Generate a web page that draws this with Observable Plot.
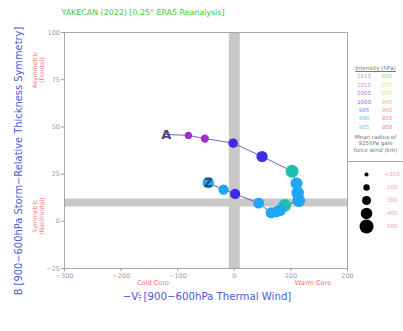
<!DOCTYPE html>
<html>
<head>
<meta charset="utf-8">
<script src="https://cdn.jsdelivr.net/npm/d3@7"></script>
<script src="https://cdn.jsdelivr.net/npm/@observablehq/plot@0.6"></script>
<style>
  body { margin: 0; background: #fff; font-family: "DejaVu Sans", sans-serif; }
  #wrap { position: relative; width: 403px; height: 331px; overflow: hidden; }
  #wrap svg { position: absolute; }
  .lbl { position: absolute; white-space: nowrap; line-height: 1; transform: translate(-50%, -50%); }
  .rot { transform: translate(-50%, -50%) rotate(-90deg); }
  #ilegend { position: absolute; left: 348px; top: 64px; width: 55px; font-size: 5.6px; color: #777; text-align: center; line-height: 8.4px; }
  #ilegend .row { display: flex; justify-content: center; gap: 9px; opacity: 0.7; }
  #ilegend .row span { width: 14px; text-align: center; }
  #sep { position: absolute; left: 347px; top: 161px; width: 56px; height: 0; border-top: 1.5px solid #aaa; }
</style>
</head>
<body>
<div id="wrap"></div>
<script>
// Storm track in phase space: one entry per analysis time
const pointLabels = ["A", "", "", "", "", "", "", "", "", "", "", "", "", "", "", "", "Z"];
const thermalWind = [-120, -81, -52, -2, 49, 102, 110, 112, 114, 89, 81, 74, 65, 43, 1.5, -19, -46];
const thicknessB  = [46, 45.5, 43.8, 41.4, 34.3, 26.5, 20, 15, 11, 8.4, 5.8, 5, 4.5, 9.6, 14.5, 16.8, 20.4];
const mslp        = [1008, 1007, 1006, 1000, 999, 986, 991, 990, 990, 986, 990, 990, 990, 990, 998, 990, 990];
const galeRadius  = [150, 230, 270, 320, 390, 460, 420, 440, 450, 450, 400, 390, 380, 370, 350, 350, 400];

// Intensity legend (hPa) and its colours
const intensityLevels = [1015, 1010, 1005, 1000, 995, 990, 985, 980, 975, 970, 965, 960, 955, 950];
const intensityColors = ["#8c7fb8", "#c15fd6", "#9b30d0", "#3a2ee8", "#2a5cf5", "#1ea6f7", "#1fbfb0",
                         "#5fd35f", "#d8d83a", "#efbd3a", "#f09040", "#f07060", "#f04c7c", "#e030b0"];

// Gale-radius legend (km)
const sizeLabels = ["<100", "200", "300", "400", "500"];
const sizeValues = [100, 200, 300, 400, 500];

// Axis ticks
const xTicks = [-300, -200, -100, 0, 100, 200];
const yTicks = [-25, 0, 25, 50, 75, 100];

const track = thermalWind.map((x, i) => ({
  x, y: thicknessB[i], p: mslp[i], r: galeRadius[i], label: pointLabels[i]
}));

// threshold colour scale: bins centred on each legend level
const ascLevels = intensityLevels.slice().reverse();
const ascColors = intensityColors.slice().reverse();
const thresholds = ascLevels.slice(1).map(v => v - 2.5);
const colorScale = { type: "threshold", domain: thresholds, range: ascColors };
const rScale = { type: "linear", domain: [100, 500], range: [2, 7], clamp: true };

const wrap = document.getElementById("wrap");

const chart = Plot.plot({
  width: 403,
  height: 331,
  marginTop: 32,
  marginRight: 56,
  marginBottom: 63,
  marginLeft: 64,
  style: { fontFamily: "DejaVu Sans, sans-serif", background: "transparent", overflow: "visible" },
  x: { domain: [-300, 200] },
  y: { domain: [-25, 100] },
  color: colorScale,
  r: rScale,
  marks: [
    Plot.ruleX([0], { stroke: "#c8c8c8", strokeWidth: 11 }),
    Plot.ruleY([10], { stroke: "#c8c8c8", strokeWidth: 8 }),
    Plot.frame({ stroke: "#a8a8a8", strokeWidth: 1 }),
    Plot.axisX({ ticks: xTicks, tickSize: 3, tickPadding: 1.5, fontSize: 6.5, color: "#9a9a9a", label: null }),
    Plot.axisY({ ticks: yTicks, tickSize: 3, tickPadding: 1.5, fontSize: 6.5, color: "#9a9a9a", label: null }),
    Plot.line(track, { x: "x", y: "y", stroke: "#6a4cc0", strokeWidth: 0.9 }),
    Plot.dot(track.slice(1), { x: "x", y: "y", r: "r", fill: "p" }),
    Plot.text(track.filter(d => d.label === "A"), {
      x: "x", y: "y", text: "label", fontSize: 13, fontWeight: "bold", fill: "#5a3f78"
    }),
    Plot.text(track.filter(d => d.label === "Z"), {
      x: "x", y: "y", text: "label", fontSize: 12, fontWeight: "bold", fill: "#1d4f72"
    })
  ]
});
chart.style.left = "0px";
chart.style.top = "0px";
wrap.appendChild(chart);

function addLabel(html, x, y, css, rotate) {
  const d = document.createElement("div");
  d.className = "lbl" + (rotate ? " rot" : "");
  d.innerHTML = html;
  d.style.left = x + "px";
  d.style.top = y + "px";
  Object.assign(d.style, css);
  wrap.appendChild(d);
}

addLabel("YAKECAN (2022) [0.25° ERA5 Reanalysis]", 143, 13, { fontSize: "7.9px", color: "#33cc33" });
addLabel("B [900−600hPa Storm−Relative Thickness Symmetry]", 19, 161, { fontSize: "9.9px", color: "#4a5ad8" }, true);
addLabel("Asymmetric", 35, 70, { fontSize: "6.2px", color: "#f08080" }, true);
addLabel("(Frontal)", 42, 70, { fontSize: "6.2px", color: "#f08080" }, true);
addLabel("Symmetric", 35, 216, { fontSize: "6.2px", color: "#f08080" }, true);
addLabel("(Nonfrontal)", 42, 216, { fontSize: "6.2px", color: "#f08080" }, true);
addLabel("Cold Core", 153, 283, { fontSize: "6.6px", color: "#f07070" });
addLabel("Warm Core", 313, 283, { fontSize: "6.6px", color: "#f07070" });
addLabel("−V<span style='display:inline-block;vertical-align:middle;font-size:5.5px;line-height:5px;text-align:left;margin-right:2px'>L<br>T</span>[900−600hPa Thermal Wind]",
  207, 297, { fontSize: "10.2px", color: "#4a5ad8" });

// Intensity legend
const il = document.createElement("div");
il.id = "ilegend";
let html = "<div style='text-decoration:underline'>Intensity (hPa)</div>";
for (let i = 0; i < 7; i++) {
  html += `<div class="row"><span style="color:${intensityColors[i]}">${intensityLevels[i]}</span>` +
          `<span style="color:${intensityColors[i + 7]}">${intensityLevels[i + 7]}</span></div>`;
}
html += "<div style='margin-top:3px;line-height:6.2px'>Mean radius of<br>925hPa gale<br>force wind (km)</div>";
il.innerHTML = html;
wrap.appendChild(il);

const sep = document.createElement("div");
sep.id = "sep";
wrap.appendChild(sep);

// Gale-radius legend, sized with the same radius scale as the track
const sizeLegend = sizeLabels.map((label, i) => ({ label, km: sizeValues[i] }));
const sizeChart = Plot.plot({
  width: 56,
  height: 70,
  margin: 0,
  marginTop: 8,
  marginBottom: 8,
  style: { fontFamily: "DejaVu Sans, sans-serif", background: "transparent", overflow: "visible" },
  x: { domain: [0, 1], axis: null },
  y: { type: "point", domain: sizeLabels, padding: 0, axis: null },
  r: rScale,
  marks: [
    Plot.dot(sizeLegend, { x: 0.34, y: "label", r: "km", fill: "black" }),
    Plot.text(sizeLegend, { x: 0.8, y: "label", text: "label", fontSize: 5.6, fill: "#f6a0b8" })
  ]
});
sizeChart.style.left = "347px";
sizeChart.style.top = "165px";
wrap.appendChild(sizeChart);
</script>
</body>
</html>
